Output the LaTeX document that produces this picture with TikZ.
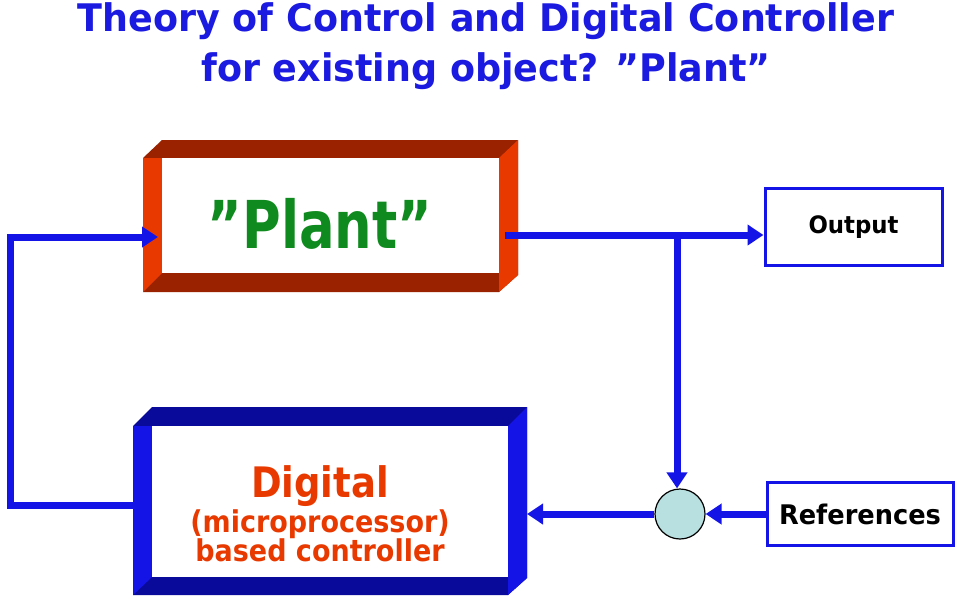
\documentclass[tikz,border=0pt]{standalone}
\usepackage{fontspec}
\setmainfont{DejaVu Sans}
\usetikzlibrary{arrows.meta}
\definecolor{dred}{HTML}{9A2200}
\definecolor{ored}{HTML}{E83A00}
\definecolor{dblue}{HTML}{0A0A9A}
\definecolor{bblue}{HTML}{1414E6}
\definecolor{tblue}{HTML}{1A1AE0}
\definecolor{pgreen}{HTML}{0F8A1E}
\definecolor{circ}{HTML}{B8E0E0}
\begin{document}
\begin{tikzpicture}[x=1pt,y=-1pt,
  wire/.style={draw=bblue,line width=7pt},
  arr/.style={wire,-{Triangle[length=16pt,width=20pt]}},
  lbox/.style={draw=bblue,line width=3pt,fill=white,inner sep=0pt}]
\useasboundingbox (0,0) rectangle (960,600);
% Plant frame
\fill[dred] (143,158)--(162,140)--(518,140)--(518,275)--(499,292)--(143,292)--cycle;
\fill[ored] (143,158)--(162,158)--(162,273)--(143,292)--cycle;
\fill[ored] (499,158)--(518,140)--(518,275)--(499,292)--cycle;
\fill[white] (162,158) rectangle (499,273);
\node[font=\bfseries\fontsize{66}{66}\selectfont,text=pgreen] (plant) at (320,224) {\scalebox{0.8}[1]{”Plant”}};
\coordinate (pin) at (158,237);
\coordinate (pout) at (505,235);
% Digital frame
\fill[dblue] (133,426)--(152,407)--(527,407)--(527,578)--(508,595)--(133,595)--cycle;
\fill[bblue] (133,426)--(152,426)--(152,577)--(133,595)--cycle;
\fill[bblue] (508,426)--(527,407)--(527,578)--(508,595)--cycle;
\fill[white] (152,426) rectangle (508,577);
\node[align=center,text=ored,font=\bfseries] (dig) at (320,514) {{\fontsize{42}{44}\selectfont\scalebox{0.88}[1]{Digital}}\\[2pt]
 {\fontsize{30}{32}\selectfont\scalebox{0.9}[1]{(microprocessor)}}\\[-1pt]
 {\fontsize{30}{32}\selectfont\scalebox{0.9}[1]{based controller}}};
\coordinate (din) at (527,514);
\coordinate (dout) at (133,505);
% Output & References
\node[lbox,minimum width=177pt,minimum height=77pt,font=\bfseries\fontsize{24}{24}\selectfont] (out) at (853.5,227) {\scalebox{0.95}[1]{Output}};
\node[lbox,minimum width=186pt,minimum height=63pt,font=\bfseries\fontsize{27}{27}\selectfont] (ref) at (860,514) {\scalebox{0.95}[1]{References}};
\node[circle,draw=black,line width=1.2pt,fill=circ,minimum size=50pt,inner sep=0pt] (sum) at (680,514) {};
\coordinate (br) at (677,235);
\coordinate (c1) at (10,505);
\coordinate (c2) at (10,237);
% connectors
\draw[arr] (pout) -- (pout -| out.west);
\draw[arr] (br) -- (br |- sum.north);
\draw[arr] (ref.west) -- (sum.east);
\draw[arr] (sum.west) -- (din);
\draw[arr] (dout) -- (c1) -- (c2) -- (pin);
% title
\node[text=tblue,font=\bfseries\fontsize{38}{50}\selectfont,align=center] (title) at (486,46) {\scalebox{0.96}[1]{Theory of Control and Digital Controller}\\\scalebox{0.96}[1]{for existing object? ”Plant”}};
\end{tikzpicture}
\end{document}
